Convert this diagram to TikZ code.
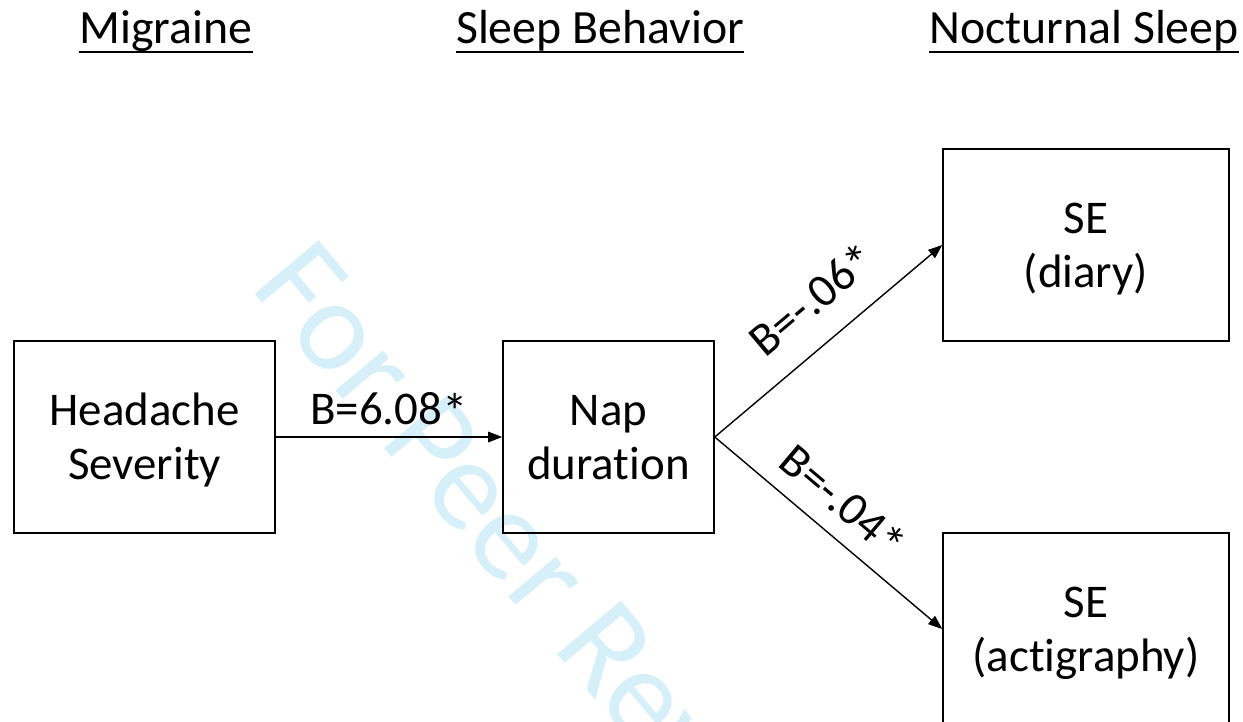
\documentclass[tikz,border=0pt]{standalone}
\usepackage{fontspec}
\setmainfont{Carlito}[Ligatures=NoCommon]
\usetikzlibrary{arrows.meta}
\definecolor{wmark}{RGB}{214,240,250}
\newcommand\twolines[2]{\rule{0pt}{24pt}#1\\#2\rule[-6.4pt]{0pt}{6.4pt}}
\newcommand\sigmark{\raisebox{-3pt}{\fontsize{29}{29}\selectfont*}}
\tikzset{
  varbox/.style={draw, line width=0.9pt, inner sep=0pt, align=center,
    font=\fontsize{26.7}{31.2}\selectfont},
  effect/.style={-{Triangle[length=8pt,width=6pt]}, line width=0.8pt},
  heading/.style={inner sep=0pt, font=\fontsize{27.2}{32}\selectfont},
  coef/.style={inner sep=0pt, font=\fontsize{26.7}{31.2}\selectfont}
}
\begin{document}
\begin{tikzpicture}[x=0.02cm,y=-0.02cm]
\useasboundingbox (0,0) rectangle (1243,721);
% the watermark
\begin{scope}
\clip (0,0) rectangle (1243,721);
\node[inner sep=0pt, anchor=base west, rotate=-50, text=wmark,
  font=\fontsize{74}{80}\selectfont] (stamp) at (249,287) {For Peer Review};
\end{scope}
% column headings
\node[heading, anchor=base] (mig) at (166,43) {Migraine};
\node[heading, anchor=base] (beh) at (600,43) {Sleep Behavior};
\node[heading, anchor=base] (noc) at (1084,43) {Nocturnal Sleep};
\foreach \h in {mig,beh,noc} {
\draw[line width=1.3pt] ([yshift=-5pt]\h.base west) -- ([yshift=-5pt]\h.base east);
}
% the boxes
\node[varbox, minimum width=5.22cm, minimum height=3.84cm] (head) at (144.5,437) {\twolines{Headache}{Severity}};
\node[varbox, minimum width=4.22cm, minimum height=3.84cm] (nap) at (608.5,437) {\twolines{Nap}{duration}};
\node[varbox, minimum width=5.72cm, minimum height=3.84cm] (diary) at (1086,245) {\twolines{SE}{(diary)}};
\node[varbox, minimum width=5.72cm, minimum height=3.84cm] (acti) at (1086,629) {\twolines{SE}{(actigraphy)}};
% the paths
\draw[effect] (head.east) -- node[coef, above=4pt] {B=6.08\sigmark} (nap.west);
\draw[effect] (nap.east) -- node[coef, sloped, above=12pt, pos=0.55] {B=-.06\sigmark} (diary.west);
\draw[effect] (nap.east) -- node[coef, sloped, above=7pt, pos=0.47] {B=-.04\sigmark} (acti.west);
\end{tikzpicture}
\end{document}
